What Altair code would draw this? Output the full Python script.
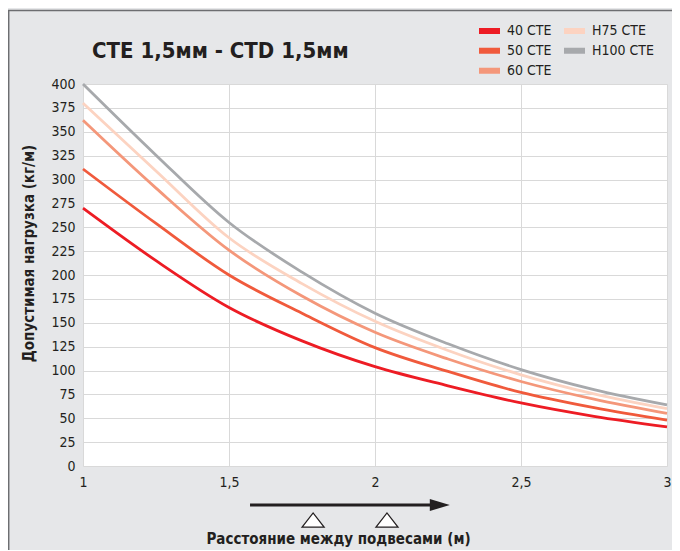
import altair as alt
import pandas as pd

# ---- data ----
spans = [1, 1.25, 1.5, 1.75, 2, 2.25, 2.5, 2.75, 3]
series_names = ["40 CTE", "50 CTE", "60 CTE", "H75 CTE", "H100 CTE"]
load_40 = [270, 215, 166, 131, 104, 84, 66, 52, 41]
load_50 = [311, 254, 200, 160, 124, 99, 77, 61, 48]
load_60 = [362, 291, 226, 178, 140, 112, 88.5, 70, 55]
load_h75 = [380, 309, 239, 191, 151.5, 121, 95.5, 75.5, 60]
load_h100 = [400, 325.5, 255, 203, 160, 128, 101, 80, 64]
series_colors = ["#ed1c24", "#f05a3c", "#f4977a", "#fcd3c1", "#a7a9ac"]
y_ticks = list(range(0, 401, 25))
x_ticks = [1, 1.5, 2, 2.5, 3]

title_text = "CTE 1,5мм - CTD 1,5мм"
x_title = "Расстояние между подвесами (м)"
y_title = "Допустимая нагрузка (кг/м)"

# pictogram under the x axis (arrow with two supports), in data units of x
arrow_from, arrow_to, arrow_head = 1.572, 2.205, 2.222
supports = [1.788, 2.041]

FONT = "Liberation Sans Narrow, DejaVu Sans Condensed, Roboto Condensed, Roboto, sans-serif"
TXT = "#231f20"

rows = []
for name, vals in zip(series_names, [load_40, load_50, load_60, load_h75, load_h100]):
    for s, v in zip(spans, vals):
        rows.append({"span": s, "load": v, "series": name})
df = pd.DataFrame(rows)

x_scale = alt.Scale(domain=[1, 3], nice=False, zero=False)
y_scale = alt.Scale(domain=[0, 400], nice=False)

lines = alt.Chart(df).mark_line(strokeWidth=2.8, interpolate="monotone").encode(
    x=alt.X("span:Q", scale=x_scale,
            axis=alt.Axis(values=x_ticks, title=x_title, labelFlush=False,
                          labelExpr="replace(format(datum.value, '~g'), '.', ',')",
                          titleX=255, titleY=72, titleBaseline="middle",
                          labelPadding=9)),
    y=alt.Y("load:Q", scale=y_scale,
            axis=alt.Axis(values=y_ticks, title=y_title,
                          titleX=-55, titleY=169, titleAngle=270,
                          titleBaseline="middle", titleAlign="center",
                          labelPadding=8)),
    color=alt.Color("series:N",
                    scale=alt.Scale(domain=series_names, range=series_colors),
                    legend=alt.Legend(title=None, orient="none", legendX=396, legendY=-63,
                                      columns=2, symbolType="M-2,0L2,0", symbolStrokeWidth=6,
                                      symbolSize=144, labelOffset=10, columnPadding=12,
                                      rowPadding=0, clipHeight=19.5,
                                      labelFontSize=14, labelColor=TXT,
                                      labelFont=FONT)),
    detail="series:N",
)

frame_df = pd.DataFrame({"a": [0]})
frame_top = alt.Chart(frame_df).mark_rule(color="#6d6e71", strokeWidth=1.5).encode(
    x=alt.value(-75), x2=alt.value(620), y=alt.value(-73.5))
frame_left = alt.Chart(frame_df).mark_rule(color="#6d6e71", strokeWidth=1.5).encode(
    x=alt.value(-74.3), y=alt.value(-73.5), y2=alt.value(520))

title_mark = alt.Chart(pd.DataFrame({"t": [title_text]})).mark_text(
    align="left", baseline="alphabetic", fontSize=22, fontWeight="bold", font=FONT,
    color=TXT).encode(text="t:N", x=alt.value(9), y=alt.value(-26))

arrow_line = alt.Chart(pd.DataFrame({"a": [arrow_from], "b": [arrow_to]})).mark_rule(
    color="#231f20", strokeWidth=3).encode(x="a:Q", x2="b:Q", y=alt.value(421))
arrow_tip = alt.Chart(pd.DataFrame({"a": [arrow_head]})).mark_point(
    shape="M-1,-0.6L1,0L-1,0.6Z", filled=True, color="#231f20", size=400, opacity=1).encode(
    x="a:Q", y=alt.value(421))
tri = alt.Chart(pd.DataFrame({"a": supports})).mark_point(
    shape="M-1,0.64L0,-0.64L1,0.64Z", fill="white", stroke="#231f20", strokeWidth=1.3,
    size=484, opacity=1, fillOpacity=1).encode(x="a:Q", y=alt.value(436))

chart = alt.layer(lines, frame_top, frame_left, title_mark, arrow_line, arrow_tip, tri).properties(
    width=584, height=382,
    padding={"left": 75, "top": 76, "right": 5, "bottom": 84},
    autosize=alt.AutoSizeParams(type="none"),
).configure(background="#e6e7e9").configure_view(fill="white", stroke=None).configure_axis(
    grid=True, gridColor="#d9d9d9", gridWidth=1, domain=False, ticks=False,
    labelFont=FONT, labelFontSize=14, labelColor=TXT,
    titleFont=FONT, titleFontSize=15, titleFontWeight="bold", titleColor=TXT,
)

chart.save("out.html", embed_options={"renderer": "svg", "actions": False})
